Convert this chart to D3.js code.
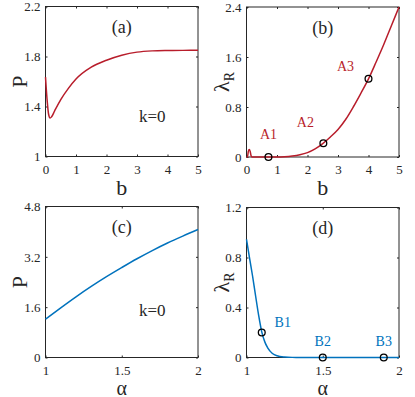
<!DOCTYPE html>
<html>
<head>
<meta charset="utf-8">
<title>P and lambda_R panels</title>
<script src="https://cdn.jsdelivr.net/npm/d3@7"></script>
<style>
body { margin: 0; background: #fff; }
svg text { font-family: "Liberation Serif", "Times New Roman", Times, "DejaVu Serif", serif; fill: #262626; }
.frame { fill: none; stroke: #262626; stroke-width: 1; }
.axis line { stroke: #262626; }
.axis text { font-size: 13px; }
.curve { fill: none; stroke-width: 1.5; }
.mark { fill: none; stroke: #000; stroke-width: 1.3; }
</style>
</head>
<body>
<div id="chart"></div>
<script>
// panel (a): P vs b
var bA = [0, 0.05, 0.1, 0.15, 0.2, 0.3, 0.5, 0.75, 1, 1.5, 2, 2.5, 3, 3.5, 4, 4.5, 5];
var pA = [1.635, 1.46, 1.34, 1.308, 1.318, 1.365, 1.455, 1.545, 1.62, 1.715, 1.77, 1.81, 1.835, 1.845, 1.848, 1.849, 1.85];

// panel (b): lambda_R vs b
var bB = [0, 0.03, 0.06, 0.09, 0.12, 0.15, 0.18, 0.5, 1, 1.25, 1.5, 1.75, 2, 2.25, 2.5, 2.75, 3, 3.25, 3.5, 3.75, 4, 4.25, 4.5, 4.75, 5];
var lamB = [0, 0, 0.09, 0.12, 0.09, 0.02, 0, 0, 0, 0.004, 0.015, 0.035, 0.07, 0.13, 0.215, 0.32, 0.44, 0.6, 0.8, 1.02, 1.25, 1.52, 1.8, 2.1, 2.4];
var ptsB = [{x: 0.72, y: 0, name: "A1"}, {x: 2.52, y: 0.22, name: "A2"}, {x: 4, y: 1.253, name: "A3"}];

// panel (c): P vs alpha
var alC = [1, 1.1, 1.2, 1.3, 1.4, 1.5, 1.6, 1.7, 1.8, 1.9, 2];
var pC = [1.22, 1.58, 1.93, 2.26, 2.57, 2.86, 3.14, 3.4, 3.64, 3.86, 4.07];

// panel (d): lambda_R vs alpha
var alD = [1, 1.02, 1.04, 1.06, 1.08, 1.1, 1.12, 1.14, 1.17, 1.2, 1.25, 1.3, 1.4, 1.5, 1.6, 1.7, 1.8, 1.9, 2];
var lamD = [0.945, 0.795, 0.65, 0.49, 0.335, 0.205, 0.125, 0.075, 0.032, 0.014, 0.004, 0.001, 0, 0, 0, 0, 0, 0, 0];
var ptsD = [{x: 1.1, y: 0.2, name: "B1"}, {x: 1.5, y: 0, name: "B2"}, {x: 1.9, y: 0, name: "B3"}];

// tick labels
var xTicksB = [0, 1, 2, 3, 4, 5];
var xTicksAl = [1, 1.5, 2];
var yTicksA = [1, 1.4, 1.8, 2.2];
var yTicksB = [0, 0.8, 1.6, 2.4];
var yTicksC = [0, 1.6, 3.2, 4.8];
var yTicksD = [0, 0.4, 0.8, 1.2];

var red = "#B81D2B", blue = "#0072BD";
var serif = "'Liberation Serif', 'Times New Roman', Times, 'DejaVu Serif', serif";

var svg = d3.select("#chart").append("svg")
  .attr("width", 415)
  .attr("height", 397);

function panel(o) {
  var w = o.w, h = o.h;
  var x = d3.scaleLinear().domain(o.xd).range([0, w]);
  var y = d3.scaleLinear().domain(o.yd).range([h, 0]);
  var g = svg.append("g").attr("transform", "translate(" + o.left + "," + o.top + ")");

  // axes, ticks pointing inward (box on)
  g.append("g").attr("class", "axis").attr("transform", "translate(0," + h + ")")
    .call(d3.axisBottom(x).tickValues(o.xt).tickSize(-2).tickPadding(8).tickFormat(String))
    .select(".domain").remove();
  g.append("g").attr("class", "axis")
    .call(d3.axisTop(x).tickValues(o.xt).tickSize(-2).tickFormat(""))
    .select(".domain").remove();
  g.append("g").attr("class", "axis")
    .call(d3.axisLeft(y).tickValues(o.yt).tickSize(-2).tickPadding(5).tickFormat(String))
    .select(".domain").remove();
  g.append("g").attr("class", "axis").attr("transform", "translate(" + w + ",0)")
    .call(d3.axisRight(y).tickValues(o.yt).tickSize(-2).tickFormat(""))
    .select(".domain").remove();
  g.selectAll(".axis").attr("font-family", serif);

  g.append("rect").attr("class", "frame").attr("width", w).attr("height", h);

  var line = d3.line()
    .x(function(d) { return x(d[0]); })
    .y(function(d) { return y(d[1]); })
    .curve(d3.curveMonotoneX);

  g.append("path")
    .datum(d3.zip(o.xs, o.ys))
    .attr("class", "curve")
    .attr("stroke", o.color)
    .attr("d", line);

  if (o.pts) {
    g.selectAll(".mark").data(o.pts).enter().append("circle")
      .attr("class", "mark")
      .attr("cx", function(d) { return x(d.x); })
      .attr("cy", function(d) { return y(d.y); })
      .attr("r", 3.4);
    g.selectAll(".lab").data(o.pts).enter().append("text")
      .attr("class", "lab")
      .attr("x", function(d, i) { return x(d.x) + o.labOff[i][0]; })
      .attr("y", function(d, i) { return y(d.y) + o.labOff[i][1]; })
      .attr("text-anchor", "middle")
      .style("font-size", "14px")
      .style("fill", o.color)
      .text(function(d) { return d.name; });
  }

  // panel tag and note
  g.append("text").attr("x", w / 2).attr("y", 26.5)
    .attr("text-anchor", "middle").style("font-size", "18px").text(o.tag);
  if (o.note) {
    g.append("text").attr("x", w * 0.7).attr("y", o.noteY)
      .attr("text-anchor", "middle").style("font-size", "17px").text(o.note);
  }

  // x label
  g.append("text").attr("x", w / 2).attr("y", h + o.xlabY)
    .attr("text-anchor", "middle")
    .style("font-size", o.xlabSize + "px")
    .text(o.xlab);

  // y label, rotated
  var yl = g.append("text")
    .attr("transform", "translate(" + o.ylabX + "," + (h / 2) + ") rotate(-90)")
    .attr("text-anchor", "middle")
    .style("font-size", "22px");
  if (o.ylab === "P") {
    yl.text("P");
  } else {
    yl.append("tspan").text("λ");
    yl.append("tspan").attr("dy", 5).style("font-size", "14px").text("R");
  }
}

panel({left: 45.5, top: 6.5, w: 152.5, h: 150, xd: [0, 5], yd: [1, 2.2], xt: xTicksB, yt: yTicksA,
  xs: bA, ys: pA, color: red, tag: "(a)", note: "k=0", noteY: 115, xlab: "b", xlabSize: 22, xlabY: 38, ylab: "P", ylabX: -19});

panel({left: 246.5, top: 7, w: 152.5, h: 150, xd: [0, 5], yd: [0, 2.4], xt: xTicksB, yt: yTicksB,
  xs: bB, ys: lamB, color: red, tag: "(b)", pts: ptsB, labOff: [[0, -18], [-18, -16], [-23, -8]],
  xlab: "b", xlabSize: 22, xlabY: 38, ylab: "L", ylabX: -18});

panel({left: 45.5, top: 206.5, w: 152.5, h: 151, xd: [1, 2], yd: [0, 4.8], xt: xTicksAl, yt: yTicksC,
  xs: alC, ys: pC, color: blue, tag: "(c)", note: "k=0", noteY: 109, xlab: "α", xlabSize: 20, xlabY: 37, ylab: "P", ylabX: -19});

panel({left: 246.5, top: 207.5, w: 152.5, h: 150, xd: [1, 2], yd: [0, 1.2], xt: xTicksAl, yt: yTicksD,
  xs: alD, ys: lamD, color: blue, tag: "(d)", pts: ptsD, labOff: [[21, -6], [0, -12], [0, -12]],
  xlab: "α", xlabSize: 20, xlabY: 37, ylab: "L", ylabX: -18});
</script>
</body>
</html>
